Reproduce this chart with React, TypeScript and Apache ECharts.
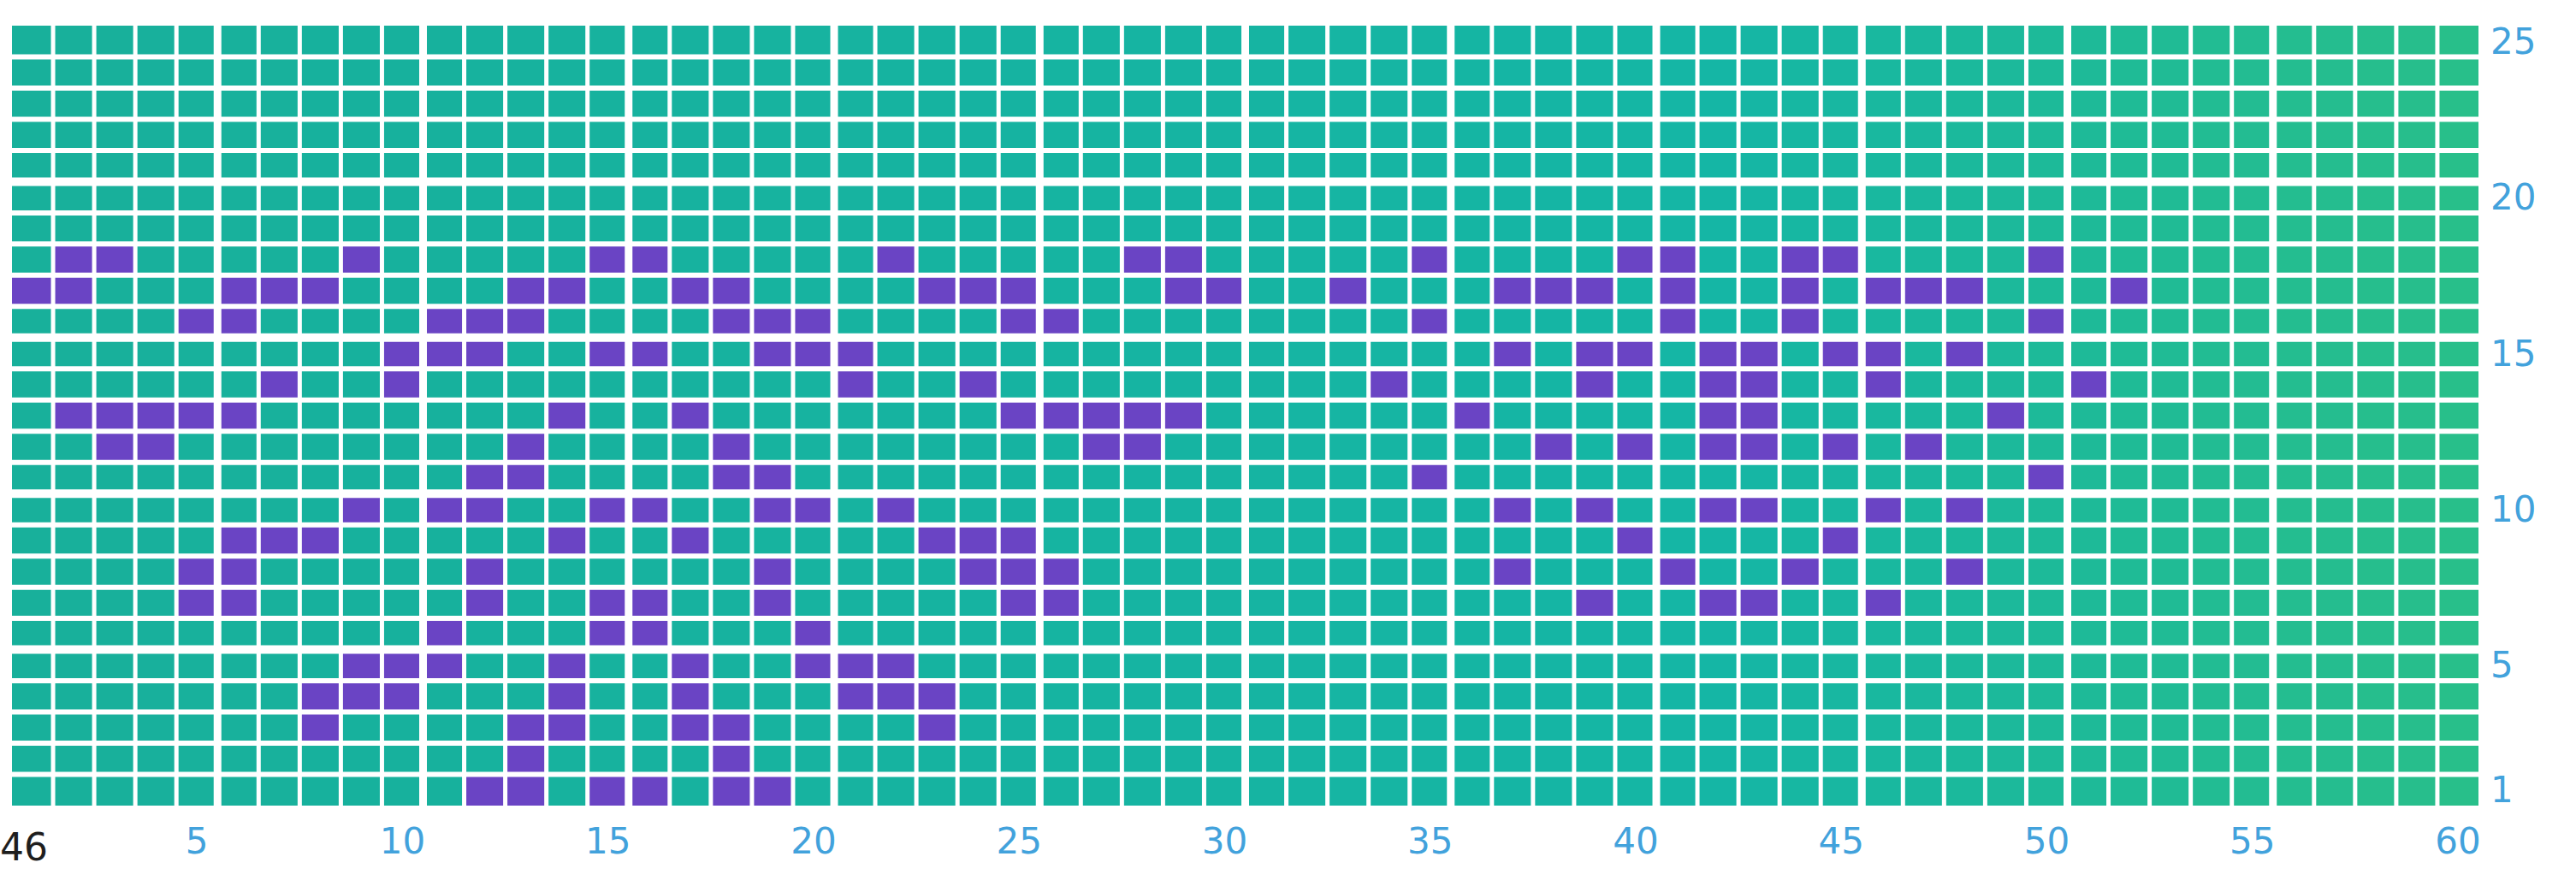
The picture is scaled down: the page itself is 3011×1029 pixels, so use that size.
import React, { useEffect, useRef } from "react";
import * as echarts from "echarts";

// Categories (columns 1..60, rows 1..25)
const xCategories: string[] = Array.from({ length: 60 }, (_, i) => String(i + 1));
const yCategories: string[] = Array.from({ length: 25 }, (_, i) => String(i + 1));

// Tick labels shown
const xTickLabels = ["5", "10", "15", "20", "25", "30", "35", "40", "45", "50", "55", "60"];
const yTickLabels = ["1", "5", "10", "15", "20", "25"];

// Purple (marked) cells: column numbers per row
const row18 = [2, 3, 9, 15, 16, 22, 28, 29, 35, 40, 41, 44, 45, 50];
const row17 = [1, 2, 6, 7, 8, 13, 14, 17, 18, 23, 24, 25, 29, 30, 33, 37, 38, 39, 41, 44, 46, 47, 48, 52];
const row16 = [5, 6, 11, 12, 13, 18, 19, 20, 25, 26, 35, 41, 44, 50];
const row15 = [10, 11, 12, 15, 16, 19, 20, 21, 37, 39, 40, 42, 43, 45, 46, 48];
const row14 = [7, 10, 21, 24, 34, 39, 42, 43, 46, 51];
const row13 = [2, 3, 4, 5, 6, 14, 17, 25, 26, 27, 28, 29, 36, 42, 43, 49];
const row12 = [3, 4, 13, 18, 27, 28, 38, 40, 42, 43, 45, 47];
const row11 = [12, 13, 18, 19, 35, 50];
const row10 = [9, 11, 12, 15, 16, 19, 20, 22, 37, 39, 42, 43, 46, 48];
const row9 = [6, 7, 8, 14, 17, 23, 24, 25, 40, 45];
const row8 = [5, 6, 12, 19, 24, 25, 26, 37, 41, 44, 48];
const row7 = [5, 6, 12, 15, 16, 19, 25, 26, 39, 42, 43, 46];
const row6 = [11, 15, 16, 20];
const row5 = [9, 10, 11, 14, 17, 20, 21, 22];
const row4 = [8, 9, 10, 14, 17, 21, 22, 23];
const row3 = [8, 13, 14, 17, 18, 23];
const row2 = [13, 18];
const row1 = [12, 13, 15, 16, 18, 19];

const purpleRows: [number, number[]][] = [
  [18, row18], [17, row17], [16, row16], [15, row15], [14, row14], [13, row13],
  [12, row12], [11, row11], [10, row10], [9, row9], [8, row8], [7, row7],
  [6, row6], [5, row5], [4, row4], [3, row3], [2, row2], [1, row1],
];

const PURPLE = "#6a44c4";

function mix(a: string, b: string, t: number): string {
  const pa = [1, 3, 5].map((i) => parseInt(a.slice(i, i + 2), 16));
  const pb = [1, 3, 5].map((i) => parseInt(b.slice(i, i + 2), 16));
  const r = pa.map((v, i) => Math.round(v + (pb[i] - v) * t));
  return "#" + r.map((v) => v.toString(16).padStart(2, "0")).join("");
}

export default function App() {
  const ref = useRef<HTMLDivElement>(null);

  useEffect(() => {
    if (!ref.current) return;
    const chart = echarts.init(ref.current, undefined, { renderer: "svg" });

    const marked = new Set<string>();
    purpleRows.forEach(([r, cols]) => cols.forEach((c) => marked.add(c + "_" + r)));

    const data: number[][] = [];
    for (let r = 1; r <= yCategories.length; r++) {
      for (let c = 1; c <= xCategories.length; c++) {
        data.push([c - 1, r - 1, marked.has(c + "_" + r) ? 1 : 0]);
      }
    }

    const nCols = xCategories.length;
    const nRows = yCategories.length;

    chart.setOption({
      animation: false,
      backgroundColor: "#ffffff",
      grid: { left: 14, right: 114, top: 30, bottom: 87 },
      xAxis: {
        type: "category",
        data: xCategories,
        position: "bottom",
        axisLine: { show: false },
        axisTick: { show: false },
        splitLine: { show: false },
        axisLabel: {
          interval: (_i: number, v: string) => xTickLabels.includes(v),
          margin: 20,
          color: "#42a2dc",
          fontSize: 42,
          fontFamily: "DejaVu Sans",
          hideOverlap: false,
        },
      },
      yAxis: {
        type: "category",
        data: yCategories,
        position: "right",
        axisLine: { show: false },
        axisTick: { show: false },
        splitLine: { show: false },
        axisLabel: {
          interval: (_i: number, v: string) => yTickLabels.includes(v),
          margin: 14,
          align: "left",
          color: "#42a2dc",
          fontSize: 42,
          fontFamily: "DejaVu Sans",
          hideOverlap: false,
        },
      },
      graphic: [
        {
          type: "text",
          x: 0,
          y: 990,
          style: {
            text: "46",
            fontSize: 44,
            fontFamily: "DejaVu Sans",
            fill: "#1e1e1e",
            verticalAlign: "middle",
            align: "left",
          },
        },
      ],
      series: [
        {
          type: "custom",
          data,
          renderItem: (_params: any, api: any) => {
            const ci = api.value(0) as number;
            const ri = api.value(1) as number;
            const v = api.value(2) as number;
            const col = ci + 1;
            const row = ri + 1;
            const center = api.coord([ci, ri]);
            const size = api.size([1, 1]) as number[];
            const vThin = 2.5, vThick = 4.5, hThin = 3, hThick = 5;
            const l = col > 1 ? ((col - 1) % 5 === 0 ? vThick : vThin) : 0;
            const r = col < nCols ? (col % 5 === 0 ? vThick : vThin) : 0;
            const t = row < nRows ? (row % 5 === 0 ? hThick : hThin) : 0;
            const b = row > 1 ? ((row - 1) % 5 === 0 ? hThick : hThin) : 0;
            const x0 = center[0] - size[0] / 2 + l;
            const y0 = center[1] - size[1] / 2 + t;
            const tx = (col - 1) / (nCols - 1);
            const green = tx < 0.7 ? mix("#18b09b", "#15b6a5", tx / 0.7) : mix("#15b6a5", "#28bf8a", (tx - 0.7) / 0.3);
            return {
              type: "rect",
              shape: { x: x0, y: y0, width: size[0] - l - r, height: size[1] - t - b },
              style: { fill: v === 1 ? PURPLE : green },
            };
          },
        },
      ],
    });

    return () => chart.dispose();
  }, []);

  return (
    <div
      ref={ref}
      style={{ position: "fixed", left: 0, top: 0, width: 3011, height: 1029, background: "#fff" }}
    />
  );
}
